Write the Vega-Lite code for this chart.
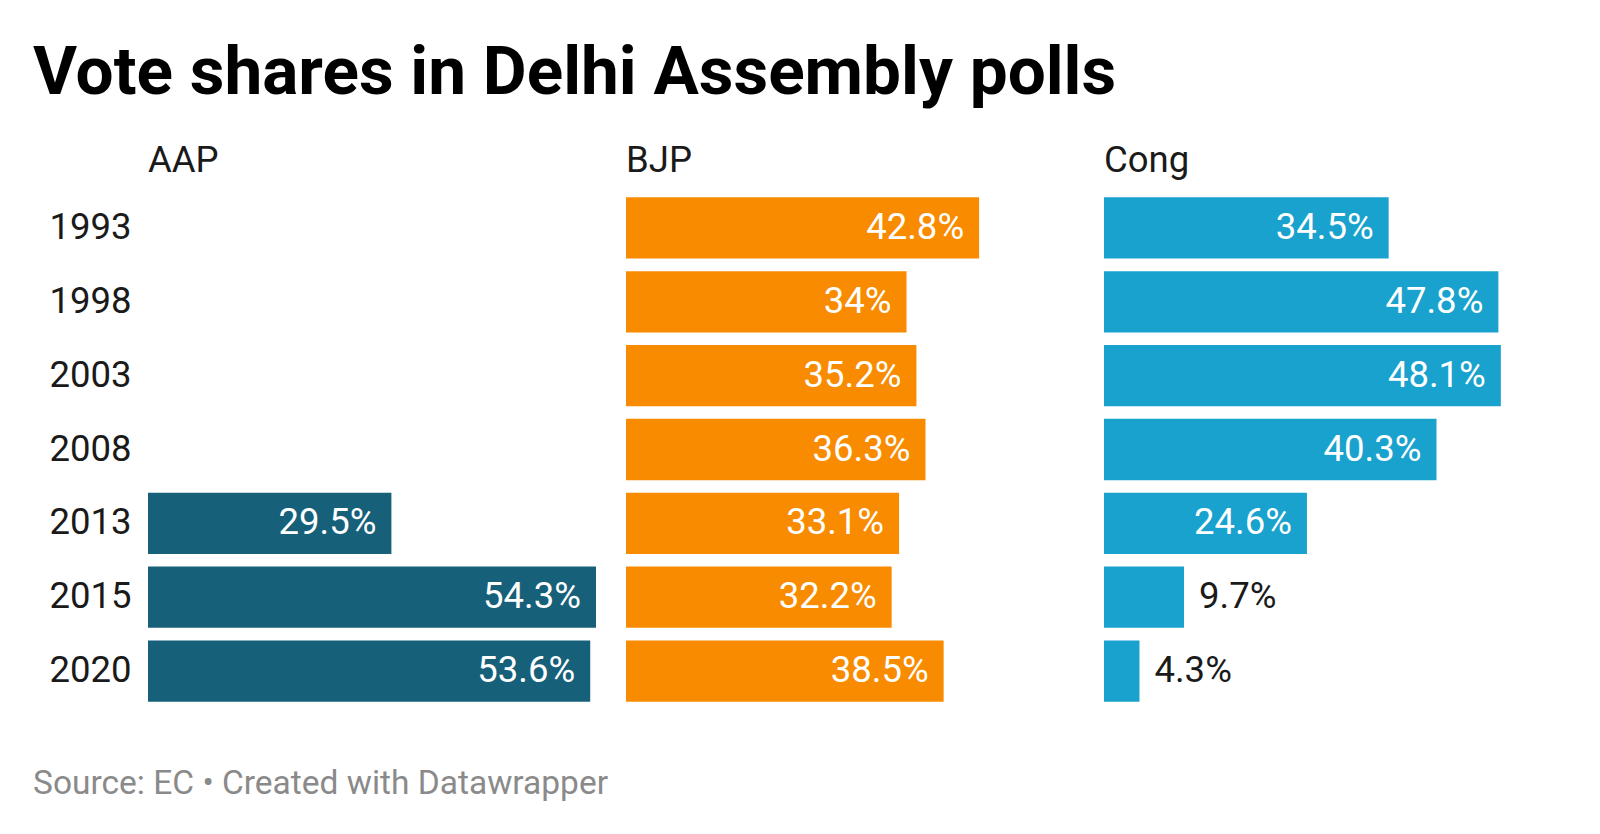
{
  "$schema": "https://vega.github.io/schema/vega-lite/v6.json",
  "padding": {"left": 33, "top": 40, "right": 10, "bottom": 10},
  "background": "white",
  "config": {"font": "Roboto", "view": {"stroke": null}},
  "title": {"text": "Source: EC • Created with Datawrapper", "orient": "bottom", "anchor": "start", "fontSize": 33.5, "fontWeight": "normal", "color": "#8a8a8a", "offset": 60},
  "data": {"values": [
    {"party": "AAP", "year": "2013", "share": 0.295},
    {"party": "AAP", "year": "2015", "share": 0.543},
    {"party": "AAP", "year": "2020", "share": 0.536},
    {"party": "BJP", "year": "1993", "share": 0.428},
    {"party": "BJP", "year": "1998", "share": 0.34},
    {"party": "BJP", "year": "2003", "share": 0.352},
    {"party": "BJP", "year": "2008", "share": 0.363},
    {"party": "BJP", "year": "2013", "share": 0.331},
    {"party": "BJP", "year": "2015", "share": 0.322},
    {"party": "BJP", "year": "2020", "share": 0.385},
    {"party": "Cong", "year": "1993", "share": 0.345},
    {"party": "Cong", "year": "1998", "share": 0.478},
    {"party": "Cong", "year": "2003", "share": 0.481},
    {"party": "Cong", "year": "2008", "share": 0.403},
    {"party": "Cong", "year": "2013", "share": 0.246},
    {"party": "Cong", "year": "2015", "share": 0.097},
    {"party": "Cong", "year": "2020", "share": 0.043}
  ]},
  "vconcat": [
    {
      "title": {"text": "Vote shares in Delhi Assembly polls", "anchor": "start", "fontSize": 67.5, "fontWeight": "bold", "color": "#000000", "offset": 34},
      "facet": {"column": {"field": "party", "type": "nominal", "sort": ["AAP", "BJP", "Cong"], "header": {"title": null, "labelAnchor": "start", "labelOrient": "top", "labelFontSize": 36.5, "labelColor": "#1a1a1a", "labelPadding": 12}}},
      "spacing": 30,
      "spec": {
        "width": 448,
        "height": 517,
        "encoding": {
          "y": {"field": "year", "type": "ordinal", "sort": "ascending", "scale": {"paddingInner": 0.17, "paddingOuter": 0.085}, "axis": {"title": null, "ticks": false, "domain": false, "labelFontSize": 36.5, "labelColor": "#1a1a1a", "labelPadding": 17, "minExtent": 115}},
          "x": {"field": "share", "type": "quantitative", "scale": {"domain": [0, 0.543], "nice": false}, "axis": null}
        },
        "layer": [
          {"mark": {"type": "bar"}, "encoding": {"color": {"field": "party", "type": "nominal", "scale": {"domain": ["AAP", "BJP", "Cong"], "range": ["#17607a", "#f88b00", "#19a2cd"]}, "legend": null}}},
          {"transform": [{"filter": "datum.share >= 0.15"}], "mark": {"type": "text", "align": "right", "dx": -15, "fontSize": 36.5, "color": "white", "baseline": "middle"}, "encoding": {"text": {"field": "share", "type": "quantitative", "format": ".1~%"}}},
          {"transform": [{"filter": "datum.share < 0.15"}], "mark": {"type": "text", "align": "left", "dx": 15, "fontSize": 36.5, "color": "#1a1a1a", "baseline": "middle"}, "encoding": {"text": {"field": "share", "type": "quantitative", "format": ".1~%"}}}
        ]
      }
    }
  ]
}
